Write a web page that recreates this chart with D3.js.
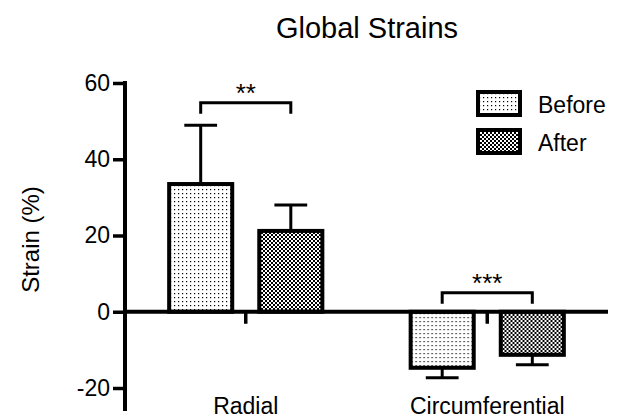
<!DOCTYPE html>
<html>
<head>
<meta charset="utf-8">
<script src="https://cdn.jsdelivr.net/npm/d3@7"></script>
<style>
  body { margin: 0; background: #fff; }
  text { font-family: Arial, "Liberation Sans", sans-serif; fill: #000; }
</style>
</head>
<body>
<div id="chart"></div>
<script>
// data
const categories = ["Radial", "Circumferential"];
const series = ["Before", "After"];
const means = [[33.5, 21.2], [-14.7, -11.3]];   // [category][series]
const sds = [[15.4, 6.8], [2.6, 2.6]];
const sigLabels = ["**", "***"];
const sigLevel = [54.8, 5];
const yTicks = [-20, 0, 20, 40, 60];

const width = 624, height = 419;

const svg = d3.select("#chart").append("svg")
  .attr("width", width)
  .attr("height", height);

// patterns
const defs = svg.append("defs");
const pBefore = defs.append("pattern")
  .attr("id", "pat-before")
  .attr("patternUnits", "userSpaceOnUse")
  .attr("width", 4).attr("height", 4);
pBefore.append("rect").attr("width", 4).attr("height", 4).attr("fill", "#fff");
pBefore.append("rect").attr("x", 1).attr("y", 1).attr("width", 1.2).attr("height", 1.2).attr("fill", "#000");

const pAfter = defs.append("pattern")
  .attr("id", "pat-after")
  .attr("patternUnits", "userSpaceOnUse")
  .attr("width", 4).attr("height", 4);
pAfter.append("rect").attr("width", 4).attr("height", 4).attr("fill", "#fff");
pAfter.append("rect").attr("x", 0).attr("y", 0).attr("width", 2).attr("height", 2).attr("fill", "#000");
pAfter.append("rect").attr("x", 2).attr("y", 2).attr("width", 2).attr("height", 2).attr("fill", "#000");

const fills = { Before: "url(#pat-before)", After: "url(#pat-after)" };

// scales
const y = d3.scaleLinear().domain([-20, 60]).range([388, 83]);
const x0 = d3.scaleBand().domain(categories).range([125, 608]);
const x1 = d3.scaleBand().domain(series).range([0, x0.bandwidth()])
  .paddingInner(0.3).paddingOuter(0.49);

// title
svg.append("text")
  .attr("x", 367).attr("y", 38)
  .attr("text-anchor", "middle")
  .style("font-size", "29px")
  .text("Global Strains");

// y axis
const yAxis = svg.append("g")
  .attr("transform", `translate(${x0.range()[0]},0)`)
  .call(d3.axisLeft(y).tickValues(yTicks).tickSize(12).tickPadding(3)
    .tickFormat(d => String(d)));
yAxis.select(".domain").remove();
yAxis.selectAll(".tick line").attr("stroke", "#000").attr("stroke-width", 3.5);
yAxis.selectAll(".tick text")
  .style("font-size", "23px")
  .attr("font-family", null);
yAxis.append("line")
  .attr("y1", y(60) - 2).attr("y2", y(-26))
  .attr("stroke", "#000").attr("stroke-width", 4);

svg.append("text")
  .attr("transform", `translate(39,${(y(60) + y(-20)) / 2 + 4}) rotate(-90)`)
  .attr("text-anchor", "middle")
  .style("font-size", "24px")
  .text("Strain (%)");

// bars
const groups = svg.selectAll("g.cat")
  .data(categories)
  .join("g")
  .attr("class", "cat")
  .attr("transform", d => `translate(${x0(d)},0)`);

const barData = (c, i) => series.map((s, j) => ({ s, v: means[i][j], e: sds[i][j] }));

groups.selectAll("rect.bar")
  .data(barData)
  .join("rect")
  .attr("class", "bar")
  .attr("x", d => x1(d.s))
  .attr("width", x1.bandwidth())
  .attr("y", d => y(Math.max(0, d.v)))
  .attr("height", d => Math.abs(y(d.v) - y(0)))
  .attr("fill", d => fills[d.s])
  .attr("stroke", "#000")
  .attr("stroke-width", 4);

// error bars
const capW = x1.bandwidth() * 0.52;
groups.selectAll("line.err")
  .data(barData)
  .join("line")
  .attr("class", "err")
  .attr("x1", d => x1(d.s) + x1.bandwidth() / 2)
  .attr("x2", d => x1(d.s) + x1.bandwidth() / 2)
  .attr("y1", d => y(d.v))
  .attr("y2", d => y(d.v + Math.sign(d.v) * d.e))
  .attr("stroke", "#000").attr("stroke-width", 3);
groups.selectAll("line.cap")
  .data(barData)
  .join("line")
  .attr("class", "cap")
  .attr("x1", d => x1(d.s) + x1.bandwidth() / 2 - capW / 2)
  .attr("x2", d => x1(d.s) + x1.bandwidth() / 2 + capW / 2)
  .attr("y1", d => y(d.v + Math.sign(d.v) * d.e))
  .attr("y2", d => y(d.v + Math.sign(d.v) * d.e))
  .attr("stroke", "#000").attr("stroke-width", 3);

// zero axis line + category ticks
svg.append("line")
  .attr("x1", x0.range()[0]).attr("x2", x0.range()[1])
  .attr("y1", y(0)).attr("y2", y(0))
  .attr("stroke", "#000").attr("stroke-width", 4);
groups.append("line")
  .attr("x1", x0.bandwidth() / 2).attr("x2", x0.bandwidth() / 2)
  .attr("y1", y(0)).attr("y2", y(0) + 12)
  .attr("stroke", "#000").attr("stroke-width", 3.5);

// category labels
groups.append("text")
  .attr("x", x0.bandwidth() / 2)
  .attr("y", 414)
  .attr("text-anchor", "middle")
  .style("font-size", "23px")
  .text(d => d);

// significance brackets
groups.each(function (c, i) {
  const g = d3.select(this);
  const xa = x1("Before") + x1.bandwidth() / 2;
  const xb = x1("After") + x1.bandwidth() / 2;
  const yy = y(sigLevel[i]);
  g.append("path")
    .attr("d", `M${xa},${yy + 11}V${yy}H${xb}V${yy + 11}`)
    .attr("fill", "none")
    .attr("stroke", "#000").attr("stroke-width", 3);
  g.append("text")
    .attr("x", (xa + xb) / 2)
    .attr("y", yy - 1)
    .attr("text-anchor", "middle")
    .style("font-size", "26px")
    .text(sigLabels[i]);
});

// legend
const legend = svg.append("g").attr("transform", "translate(478,92)");
legend.selectAll("rect")
  .data(series)
  .join("rect")
  .attr("x", 0)
  .attr("y", (d, i) => i * 38)
  .attr("width", 42).attr("height", 23)
  .attr("fill", d => fills[d])
  .attr("stroke", "#000").attr("stroke-width", 4);
legend.selectAll("text")
  .data(series)
  .join("text")
  .attr("x", 60)
  .attr("y", (d, i) => i * 38 + 21)
  .style("font-size", "23px")
  .text(d => d);
</script>
</body>
</html>
